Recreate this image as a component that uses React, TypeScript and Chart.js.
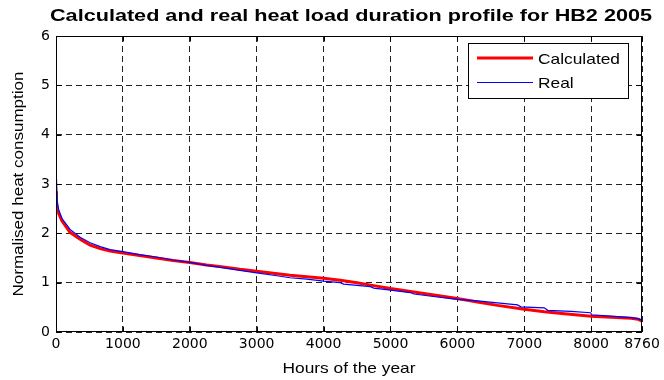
import React, { useEffect, useRef } from "react";
import { Chart, registerables } from "chart.js";

Chart.register(...registerables);

const titleText = "Calculated and real heat load duration profile for HB2 2005";
const xTitle = "Hours of the year";
const yTitle = "Normalised heat consumption";
const seriesNames = ["Calculated", "Real"];

const calcHours = [0, 5, 15, 40, 90, 210, 360, 510, 660, 810, 1000, 1250, 1500, 1750, 2000, 2250, 2500, 2750, 3000, 3250, 3500, 3750, 4000, 4250, 4500, 4750, 5000, 5500, 6000, 6300, 6600, 7000, 7300, 7600, 8000, 8300, 8600, 8700, 8760];
const calcValues = [2.85, 2.65, 2.52, 2.4, 2.25, 2.02, 1.88, 1.76, 1.69, 1.64, 1.6, 1.55, 1.5, 1.45, 1.41, 1.36, 1.32, 1.27, 1.23, 1.19, 1.15, 1.12, 1.09, 1.05, 1.0, 0.94, 0.88, 0.78, 0.68, 0.61, 0.54, 0.46, 0.41, 0.37, 0.32, 0.3, 0.28, 0.26, 0.22];

const realHours = [0, 8, 20, 40, 90, 210, 360, 510, 660, 810, 1000, 1250, 1500, 1750, 2000, 2250, 2500, 2750, 3000, 3250, 3500, 3750, 4000, 4250, 4300, 4700, 4750, 5000, 5300, 5350, 5700, 6000, 6300, 6600, 6900, 6950, 7300, 7350, 7700, 7990, 8010, 8400, 8600, 8700, 8740, 8758, 8760];
const realValues = [3.1, 3.05, 2.64, 2.48, 2.3, 2.08, 1.92, 1.81, 1.73, 1.67, 1.63, 1.57, 1.52, 1.46, 1.41, 1.35, 1.3, 1.25, 1.2, 1.15, 1.1, 1.07, 1.03, 1.0, 0.97, 0.92, 0.89, 0.85, 0.8, 0.77, 0.71, 0.66, 0.63, 0.59, 0.55, 0.51, 0.49, 0.44, 0.42, 0.39, 0.35, 0.31, 0.29, 0.27, 0.25, 0.24, 0.0];

const xTickValues = [0, 1000, 2000, 3000, 4000, 5000, 6000, 7000, 8000, 8760];
const yMin = 0;
const yMax = 6;
const yStep = 1;

const FONT = "'Liberation Sans', Arial, Helvetica, sans-serif";
const TICKFONT = "'DejaVu Sans', sans-serif";

// draw text stretched horizontally so it spans `target` px
function stretchText(
  ctx: CanvasRenderingContext2D,
  text: string,
  x: number,
  y: number,
  target: number,
  align: "left" | "center"
) {
  const w = ctx.measureText(text).width;
  const sx = target / w;
  ctx.save();
  ctx.translate(x, y);
  ctx.scale(sx, 1);
  ctx.textAlign = align;
  ctx.fillText(text, 0, 0);
  ctx.restore();
}

const overlay = {
  id: "overlay",
  afterDraw(chart: any) {
    const ctx: CanvasRenderingContext2D = chart.ctx;
    const { left, right, top, bottom } = chart.chartArea;
    const xs = chart.scales.x;
    const ys = chart.scales.y;
    ctx.save();
    ctx.strokeStyle = "#000";
    ctx.lineWidth = 1;
    ctx.setLineDash([]);
    const L = Math.round(left) + 0.5;
    const R = Math.round(right) - 0.5;
    const T = Math.round(top) + 0.5;
    const B = Math.round(bottom) - 0.5;
    ctx.strokeRect(L, T, R - L, B - T);
    ctx.beginPath();
    xTickValues.forEach((v) => {
      const px = Math.round(xs.getPixelForValue(v)) + 0.5;
      ctx.moveTo(px, B);
      ctx.lineTo(px, B - 5);
      ctx.moveTo(px, T);
      ctx.lineTo(px, T + 5);
    });
    for (let v = yMin; v <= yMax; v += yStep) {
      const py = Math.round(ys.getPixelForValue(v)) + 0.5;
      ctx.moveTo(L, py);
      ctx.lineTo(L + 5, py);
      ctx.moveTo(R, py);
      ctx.lineTo(R - 5, py);
    }
    ctx.stroke();

    ctx.fillStyle = "#000";
    ctx.textBaseline = "alphabetic";

    // title
    ctx.font = `bold 17px ${FONT}`;
    stretchText(ctx, titleText, 351, 21, 602, "center");

    // x title
    ctx.font = `15px ${FONT}`;
    stretchText(ctx, xTitle, (left + right) / 2, 373, 133, "center");

    // y title
    ctx.save();
    ctx.translate(23, (top + bottom) / 2);
    ctx.rotate(-Math.PI / 2);
    stretchText(ctx, yTitle, 0, 0, 225, "center");
    ctx.restore();

    // legend
    ctx.fillStyle = "#fff";
    ctx.fillRect(468.5, 43.5, 160, 55);
    ctx.strokeStyle = "#000";
    ctx.lineWidth = 1;
    ctx.strokeRect(468.5, 43.5, 160, 55);
    ctx.beginPath();
    ctx.strokeStyle = "#ff0000";
    ctx.lineWidth = 3;
    ctx.moveTo(477, 58);
    ctx.lineTo(533, 58);
    ctx.stroke();
    ctx.beginPath();
    ctx.strokeStyle = "#0000ff";
    ctx.lineWidth = 1;
    ctx.moveTo(477, 82.5);
    ctx.lineTo(533, 82.5);
    ctx.stroke();
    ctx.fillStyle = "#000";
    ctx.font = `15px ${FONT}`;
    const w0 = ctx.measureText(seriesNames[0]).width;
    const sx = 82 / w0;
    stretchText(ctx, seriesNames[0], 538, 64, 82, "left");
    stretchText(ctx, seriesNames[1], 538, 88, ctx.measureText(seriesNames[1]).width * sx, "left");
    ctx.restore();
  },
};

export default function App() {
  const ref = useRef<HTMLCanvasElement>(null);
  useEffect(() => {
    if (!ref.current) return;
    const chart = new Chart(ref.current, {
      type: "line",
      data: {
        datasets: [
          {
            label: seriesNames[0],
            data: calcHours.map((h, i) => ({ x: h, y: calcValues[i] })),
            borderColor: "#ff0000",
            borderWidth: 3,
            pointRadius: 0,
            tension: 0,
            fill: false,
            order: 1,
          },
          {
            label: seriesNames[1],
            data: realHours.map((h, i) => ({ x: h, y: realValues[i] })),
            borderColor: "#0000ff",
            borderWidth: 1.2,
            pointRadius: 0,
            tension: 0,
            fill: false,
            order: 0,
          },
        ],
      },
      options: {
        animation: false,
        responsive: false,
        devicePixelRatio: 1,
        layout: { padding: { top: 36, right: 22, left: 0, bottom: 0 } },
        plugins: {
          legend: { display: false },
          title: { display: false },
          tooltip: { enabled: false },
        },
        scales: {
          x: {
            type: "linear",
            min: 0,
            max: 8760,
            afterBuildTicks: (scale: any) => {
              scale.ticks = xTickValues.map((v) => ({ value: v }));
            },
            afterFit: (scale: any) => {
              scale.height = 48;
            },
            ticks: {
              color: "#000",
              font: { family: TICKFONT, size: 14 },
              padding: 4,
              maxRotation: 0,
              autoSkip: false,
              callback: (v: any) => String(v),
            },
            grid: { color: "#222", drawTicks: false, lineWidth: 1 },
            border: { display: false, dash: [6, 4] },
          },
          y: {
            min: yMin,
            max: yMax,
            afterFit: (scale: any) => {
              scale.width = 56;
            },
            ticks: {
              stepSize: yStep,
              color: "#000",
              font: { family: TICKFONT, size: 14 },
              padding: 6,
            },
            grid: { color: "#222", drawTicks: false, lineWidth: 1 },
            border: { display: false, dash: [6, 4] },
          },
        },
      },
      plugins: [overlay],
    });
    return () => chart.destroy();
  }, []);
  return (
    <div style={{ position: "fixed", left: 0, top: 0, width: 664, height: 380, background: "#fff" }}>
      <canvas ref={ref} width={664} height={380} style={{ width: 664, height: 380 }} />
    </div>
  );
}
